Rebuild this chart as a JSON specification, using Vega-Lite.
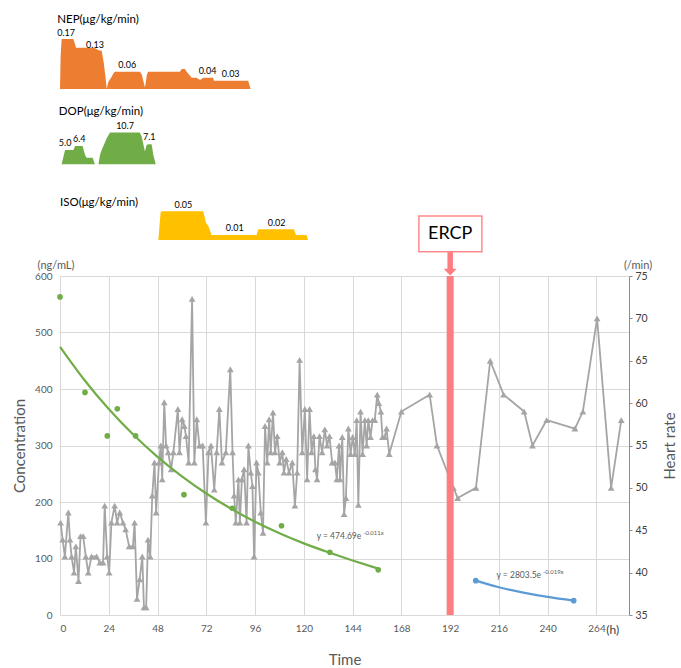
{
  "$schema": "https://vega.github.io/schema/vega-lite/v6.json",
  "padding": {"left": 12, "top": 14, "right": 5, "bottom": 5},
  "config": {
    "font": "Lato",
    "view": {"stroke": null},
    "axis": {"labelColor": "#595959", "labelFontSize": 10, "titleColor": "#595959", "titleFontWeight": "normal", "titleFontSize": 15, "gridColor": "#d9d9d9", "domain": false, "ticks": false},
    "title": {"fontSize": 11.5, "fontWeight": "normal", "color": "#000000", "anchor": "start"}
  },
  "datasets": {
    "nep": [
      {"t": 0, "v": 0}, {"t": 0.3, "v": 0.11}, {"t": 0.8, "v": 0.17}, {"t": 6.6, "v": 0.17}, {"t": 7.9, "v": 0.14}, {"t": 17, "v": 0.14}, {"t": 18.9, "v": 0.132}, {"t": 20.5, "v": 0.13}, {"t": 21.5, "v": 0.09}, {"t": 22.4, "v": 0.04}, {"t": 23, "v": 0}, {"t": 23.8, "v": 0.025}, {"t": 24.9, "v": 0.036}, {"t": 26.5, "v": 0.055}, {"t": 27.1, "v": 0.059}, {"t": 39.3, "v": 0.059}, {"t": 40.2, "v": 0.05}, {"t": 41.8, "v": 0.005}, {"t": 42.8, "v": 0.05}, {"t": 43.4, "v": 0.059}, {"t": 59, "v": 0.059}, {"t": 59.9, "v": 0.068}, {"t": 61.5, "v": 0.068}, {"t": 62.3, "v": 0.059}, {"t": 64.8, "v": 0.0385}, {"t": 67.2, "v": 0.0385}, {"t": 68.9, "v": 0.031}, {"t": 70.5, "v": 0.0385}, {"t": 75.4, "v": 0.0385}, {"t": 75.7, "v": 0.028}, {"t": 92.6, "v": 0.028}, {"t": 93.8, "v": 0}
    ],
    "nepLabels": [
      {"t": 3.0, "v": 0.17, "label": "0.17"}, {"t": 17.2, "v": 0.13, "label": "0.13"}, {"t": 33.1, "v": 0.06, "label": "0.06"}, {"t": 72.6, "v": 0.04, "label": "0.04"}, {"t": 84, "v": 0.03, "label": "0.03"}
    ],
    "dop": [
      {"t": 0.8, "v": 0}, {"t": 2.5, "v": 4.84}, {"t": 6.6, "v": 4.84}, {"t": 7.4, "v": 6.2}, {"t": 11.1, "v": 6.2}, {"t": 12.3, "v": 3.2}, {"t": 13.1, "v": 2.25}, {"t": 16.1, "v": 2.25}, {"t": 16.7, "v": 0.9}, {"t": 17.2, "v": 0}, {"t": 18.9, "v": 0}, {"t": 19.7, "v": 3.2}, {"t": 20.5, "v": 4.84}, {"t": 23, "v": 8.8}, {"t": 24.6, "v": 10.7}, {"t": 39.3, "v": 10.7}, {"t": 40.2, "v": 9.3}, {"t": 41.8, "v": 4.3}, {"t": 42.6, "v": 6.5}, {"t": 43.4, "v": 6.76}, {"t": 45.1, "v": 6.76}, {"t": 45.9, "v": 3.2}, {"t": 47.1, "v": 0}
    ],
    "dopLabels": [
      {"t": 2.5, "v": 5.0, "label": "5.0"}, {"t": 9.5, "v": 6.4, "label": "6.4"}, {"t": 32, "v": 10.7, "label": "10.7"}, {"t": 43.9, "v": 7.1, "label": "7.1"}
    ],
    "iso": [
      {"t": 48.4, "v": 0}, {"t": 49.5, "v": 0.048}, {"t": 50.0, "v": 0.05}, {"t": 70.5, "v": 0.05}, {"t": 71.8, "v": 0.03}, {"t": 73.0, "v": 0.0244}, {"t": 74.6, "v": 0.0087}, {"t": 96.7, "v": 0.0087}, {"t": 97.6, "v": 0.0186}, {"t": 115.1, "v": 0.0186}, {"t": 116.1, "v": 0.0087}, {"t": 121.3, "v": 0.0087}, {"t": 122.1, "v": 0}
    ],
    "isoLabels": [
      {"t": 60.7, "v": 0.05, "label": "0.05"}, {"t": 86, "v": 0.01, "label": "0.01"}, {"t": 106.6, "v": 0.02, "label": "0.02"}
    ],
    "hr": [
      {"t":0.3,"hr":45.9},{"t":1.3,"hr":43.9},{"t":2.4,"hr":41.9},{"t":4.1,"hr":47.1},{"t":4.9,"hr":43.9},{"t":5.7,"hr":41.9},{"t":6.9,"hr":40.0},{"t":7.8,"hr":43.1},{"t":9.1,"hr":39.0},{"t":10.1,"hr":44.3},{"t":11.4,"hr":44.3},{"t":12.7,"hr":41.9},{"t":13.9,"hr":40.0},{"t":15.5,"hr":41.9},{"t":18.0,"hr":41.9},{"t":19.6,"hr":41.2},{"t":21.2,"hr":41.2},{"t":22.0,"hr":47.9},{"t":23.2,"hr":41.9},{"t":24.2,"hr":40.0},{"t":25.3,"hr":45.9},{"t":26.9,"hr":47.9},{"t":28.1,"hr":45.9},{"t":29.4,"hr":47.1},{"t":31.0,"hr":45.9},{"t":32.3,"hr":45.1},{"t":34.0,"hr":43.1},{"t":35.9,"hr":43.1},{"t":36.7,"hr":45.9},{"t":37.9,"hr":36.9},{"t":39.2,"hr":39.2},{"t":40.5,"hr":41.9},{"t":41.3,"hr":35.9},{"t":42.4,"hr":35.9},{"t":43.3,"hr":43.9},{"t":44.4,"hr":41.9},{"t":45.4,"hr":49.1},{"t":46.5,"hr":53.0},{"t":47.3,"hr":47.1},{"t":48.7,"hr":53.0},{"t":49.6,"hr":55.0},{"t":50.3,"hr":51.0},{"t":51.3,"hr":60.1},{"t":52.2,"hr":55.0},{"t":53.2,"hr":54.2},{"t":54.7,"hr":52.2},{"t":55.8,"hr":54.2},{"t":58.0,"hr":59.3},{"t":58.8,"hr":54.2},{"t":60.1,"hr":58.1},{"t":61.2,"hr":57.3},{"t":62.0,"hr":56.1},{"t":63.3,"hr":53.0},{"t":65.0,"hr":72.3},{"t":66.1,"hr":53.0},{"t":67.3,"hr":58.1},{"t":68.6,"hr":55.0},{"t":70.2,"hr":55.0},{"t":71.8,"hr":45.9},{"t":73.1,"hr":54.2},{"t":74.3,"hr":55.0},{"t":75.9,"hr":49.8},{"t":77.1,"hr":54.2},{"t":78.4,"hr":59.3},{"t":79.7,"hr":53.0},{"t":81.6,"hr":54.2},{"t":83.8,"hr":64.0},{"t":84.9,"hr":54.2},{"t":85.7,"hr":49.1},{"t":86.5,"hr":45.9},{"t":87.8,"hr":51.0},{"t":88.5,"hr":45.9},{"t":89.5,"hr":51.0},{"t":90.6,"hr":52.2},{"t":91.8,"hr":45.9},{"t":92.7,"hr":55.0},{"t":93.9,"hr":51.8},{"t":94.7,"hr":50.2},{"t":95.5,"hr":41.9},{"t":96.7,"hr":53.0},{"t":97.6,"hr":51.8},{"t":98.8,"hr":47.1},{"t":99.9,"hr":44.7},{"t":100.9,"hr":57.3},{"t":102.0,"hr":53.0},{"t":102.9,"hr":58.1},{"t":103.7,"hr":54.2},{"t":104.8,"hr":58.9},{"t":105.8,"hr":54.2},{"t":106.9,"hr":56.1},{"t":108.1,"hr":53.0},{"t":109.4,"hr":54.2},{"t":110.2,"hr":51.8},{"t":111.3,"hr":53.4},{"t":112.7,"hr":51.8},{"t":114.3,"hr":53.0},{"t":115.6,"hr":47.9},{"t":116.7,"hr":51.8},{"t":117.9,"hr":65.1},{"t":119.2,"hr":54.2},{"t":120.5,"hr":59.3},{"t":121.6,"hr":51.0},{"t":122.8,"hr":59.3},{"t":123.8,"hr":54.2},{"t":124.9,"hr":56.1},{"t":125.7,"hr":52.2},{"t":126.5,"hr":51.0},{"t":127.7,"hr":56.1},{"t":129.0,"hr":54.2},{"t":130.3,"hr":56.9},{"t":131.4,"hr":55.0},{"t":132.6,"hr":56.1},{"t":133.9,"hr":53.0},{"t":135.3,"hr":53},{"t":136.2,"hr":51},{"t":137.3,"hr":55},{"t":137.8,"hr":51},{"t":138.9,"hr":56},{"t":139.8,"hr":46.9},{"t":140.7,"hr":48.8},{"t":141.9,"hr":57},{"t":143.0,"hr":54},{"t":144.0,"hr":56},{"t":145.1,"hr":54},{"t":146.0,"hr":58},{"t":146.8,"hr":48},{"t":147.9,"hr":59},{"t":148.9,"hr":54},{"t":150.0,"hr":58},{"t":150.9,"hr":55},{"t":151.7,"hr":58},{"t":152.8,"hr":56},{"t":153.8,"hr":58},{"t":154.9,"hr":58},{"t":156.1,"hr":61},{"t":156.9,"hr":60},{"t":157.9,"hr":59},{"t":158.7,"hr":56},{"t":159.8,"hr":56},{"t":160.7,"hr":57},{"t":162.0,"hr":54},{"t":168.0,"hr":59},{"t":181.9,"hr":61},{"t":185.5,"hr":55},{"t":193.6,"hr":50},{"t":195.7,"hr":48.8},{"t":204.7,"hr":50},{"t":211.7,"hr":65},{"t":218.3,"hr":61},{"t":228.4,"hr":59},{"t":232.5,"hr":55},{"t":239.5,"hr":58},{"t":253.4,"hr":57},{"t":257.3,"hr":59},{"t":264.3,"hr":70},{"t":271.2,"hr":50},{"t":276.2,"hr":58}
    ],
    "conc": [
      {"t": 0, "c": 563, "g": "pre"}, {"t": 12.3, "c": 394, "g": "pre"}, {"t": 23.3, "c": 317, "g": "pre"}, {"t": 28.2, "c": 365, "g": "pre"}, {"t": 37.2, "c": 317, "g": "pre"}, {"t": 61, "c": 213, "g": "pre"}, {"t": 84.8, "c": 189, "g": "pre"}, {"t": 109, "c": 158, "g": "pre"}, {"t": 132.8, "c": 111, "g": "pre"}, {"t": 156.6, "c": 80, "g": "pre"},
      {"t": 204.6, "c": 60.8, "g": "post"}, {"t": 252.8, "c": 25.4, "g": "post"}
    ],
    "fit": [
      {"t": 0, "c": 474.7, "g": "pre"}, {"t": 12, "c": 416.0, "g": "pre"}, {"t": 24, "c": 364.6, "g": "pre"}, {"t": 36, "c": 319.5, "g": "pre"}, {"t": 48, "c": 280.0, "g": "pre"}, {"t": 60, "c": 245.4, "g": "pre"}, {"t": 72, "c": 215.0, "g": "pre"}, {"t": 84, "c": 188.4, "g": "pre"}, {"t": 96, "c": 165.1, "g": "pre"}, {"t": 108, "c": 144.7, "g": "pre"}, {"t": 120, "c": 126.8, "g": "pre"}, {"t": 132, "c": 111.1, "g": "pre"}, {"t": 144, "c": 96.5, "g": "pre"}, {"t": 156.6, "c": 82, "g": "pre"},
      {"t": 204.6, "c": 60.8, "g": "post"}, {"t": 216, "c": 49.1, "g": "post"}, {"t": 228, "c": 39.7, "g": "post"}, {"t": 240, "c": 32.0, "g": "post"}, {"t": 252.8, "c": 25.4, "g": "post"}
    ],
    "eq": [
      {"t": 126.3, "c": 140, "text": "y = 474.69e"}, {"t": 214.8, "c": 70.3, "text": "y = 2803.5e"}
    ],
    "eqSup": [
      {"t": 149.2, "c": 140, "text": "-0.011x"}, {"t": 237.7, "c": 70.3, "text": "-0.019x"}
    ]
  },
  "spacing": 36,
  "bounds": "flush",
  "vconcat": [
    {
      "width": 569, "height": 50,
      "title": {"text": "NEP(μg/kg/min)", "offset": 3.5},
      "layer": [
        {"data": {"name": "nep"}, "mark": {"type": "area", "color": "#ed7d31"},
         "encoding": {"x": {"field": "t", "type": "quantitative", "scale": {"domain": [0, 280], "nice": false}, "axis": null},
                      "y": {"field": "v", "type": "quantitative", "scale": {"domain": [0, 0.17], "nice": false}, "axis": null}}},
        {"data": {"name": "nepLabels"}, "mark": {"type": "text", "fontSize": 9, "baseline": "bottom", "dy": -1, "color": "#000000"},
         "encoding": {"x": {"field": "t", "type": "quantitative", "scale": {"domain": [0, 280], "nice": false}, "axis": null},
                      "y": {"field": "v", "type": "quantitative", "scale": {"domain": [0, 0.17], "nice": false}, "axis": null},
                      "text": {"field": "label"}}}
      ]
    },
    {
      "width": 569, "height": 39.3,
      "title": {"text": "DOP(μg/kg/min)", "offset": 4.5},
      "layer": [
        {"data": {"name": "dop"}, "mark": {"type": "area", "color": "#70ad47"},
         "encoding": {"x": {"field": "t", "type": "quantitative", "scale": {"domain": [0, 280], "nice": false}, "axis": null},
                      "y": {"field": "v", "type": "quantitative", "scale": {"domain": [0, 13.26], "nice": false}, "axis": null}}},
        {"data": {"name": "dopLabels"}, "mark": {"type": "text", "fontSize": 9, "baseline": "bottom", "dy": -1.5, "color": "#000000"},
         "encoding": {"x": {"field": "t", "type": "quantitative", "scale": {"domain": [0, 280], "nice": false}, "axis": null},
                      "y": {"field": "v", "type": "quantitative", "scale": {"domain": [0, 13.26], "nice": false}, "axis": null},
                      "text": {"field": "label"}}}
      ]
    },
    {
      "width": 569, "height": 39,
      "title": {"text": "ISO(μg/kg/min)", "offset": -7.5},
      "layer": [
        {"data": {"name": "iso"}, "mark": {"type": "area", "color": "#ffc000"},
         "encoding": {"x": {"field": "t", "type": "quantitative", "scale": {"domain": [0, 280], "nice": false}, "axis": null},
                      "y": {"field": "v", "type": "quantitative", "scale": {"domain": [0, 0.068], "nice": false}, "axis": null}}},
        {"data": {"name": "isoLabels"}, "mark": {"type": "text", "fontSize": 9, "baseline": "bottom", "dy": -1, "color": "#000000"},
         "encoding": {"x": {"field": "t", "type": "quantitative", "scale": {"domain": [0, 280], "nice": false}, "axis": null},
                      "y": {"field": "v", "type": "quantitative", "scale": {"domain": [0, 0.068], "nice": false}, "axis": null},
                      "text": {"field": "label"}}}
      ]
    },
    {
      "width": 569, "height": 339,
      "layer": [
        {"data": {"name": "hr"},
         "mark": {"type": "line", "color": "#a5a5a5", "strokeWidth": 1.8, "point": {"shape": "triangle-up", "size": 46, "filled": true, "color": "#a5a5a5"}},
         "encoding": {
           "x": {"field": "t", "type": "quantitative", "scale": {"domain": [0, 280], "nice": false},
                 "axis": {"values": [0, 24, 48, 72, 96, 120, 144, 168, 192, 216, 240, 264], "title": "Time", "grid": true, "labelPadding": 8, "titlePadding": 19}},
           "y": {"field": "hr", "type": "quantitative", "scale": {"domain": [35, 75], "nice": false},
                 "axis": {"orient": "right", "values": [35, 40, 45, 50, 55, 60, 65, 70, 75], "title": "Heart rate", "grid": false, "domain": true, "domainColor": "#8c8c8c", "ticks": true, "tickColor": "#8c8c8c", "tickSize": 3, "labelPadding": 3, "labelColor": "#404040", "labelFontSize": 10.5, "titlePadding": 30, "titleAngle": 270}}
         }},
        {"layer": [
          {"data": {"name": "fit"},
           "mark": {"type": "line", "strokeWidth": 2.2, "interpolate": "monotone"},
           "encoding": {
             "x": {"field": "t", "type": "quantitative", "scale": {"domain": [0, 280], "nice": false},
                   "axis": {"values": [0, 24, 48, 72, 96, 120, 144, 168, 192, 216, 240, 264], "title": "Time", "grid": true, "labelPadding": 8, "titlePadding": 19}},
             "y": {"field": "c", "type": "quantitative", "scale": {"domain": [0, 600], "nice": false},
                   "axis": {"orient": "left", "values": [0, 100, 200, 300, 400, 500, 600], "title": "Concentration", "grid": true, "labelPadding": 8, "titlePadding": 7}},
             "color": {"field": "g", "type": "nominal", "scale": {"domain": ["pre", "post"], "range": ["#70ad47", "#5b9bd5"]}, "legend": null}
           }},
          {"data": {"name": "conc"},
           "mark": {"type": "circle", "size": 32, "opacity": 1},
           "encoding": {
             "x": {"field": "t", "type": "quantitative"},
             "y": {"field": "c", "type": "quantitative"},
             "color": {"field": "g", "type": "nominal", "scale": {"domain": ["pre", "post"], "range": ["#70ad47", "#5b9bd5"]}, "legend": null}
           }},
          {"data": {"values": [{}]}, "mark": {"type": "rule", "color": "#ff7c80", "strokeWidth": 7},
           "encoding": {"x": {"datum": 192}, "y": {"datum": 0}, "y2": {"datum": 600}}},
          {"data": {"values": [{}]}, "mark": {"type": "rule", "color": "#ff7c80", "strokeWidth": 5.5},
           "encoding": {"x": {"datum": 192}, "y": {"datum": 643}, "y2": {"datum": 609}}},
          {"data": {"values": [{}]}, "mark": {"type": "point", "shape": "M-1,-0.5L1,-0.5L0,0.55Z", "size": 169, "filled": true, "opacity": 1, "color": "#ff7c80"},
           "encoding": {"x": {"datum": 192}, "y": {"datum": 607}}},
          {"data": {"values": [{}]}, "mark": {"type": "rect", "fill": "#ffffff", "stroke": "#ff8a8c", "strokeWidth": 1.5},
           "encoding": {"x": {"datum": 176.6}, "x2": {"datum": 207.6}, "y": {"datum": 643}, "y2": {"datum": 706}}},
          {"data": {"values": [{}]}, "mark": {"type": "text", "text": "ERCP", "fontSize": 18, "color": "#000000", "baseline": "middle", "align": "center"},
           "encoding": {"x": {"datum": 192}, "y": {"datum": 674}}},
          {"data": {"name": "eq"}, "mark": {"type": "text", "fontSize": 8.5, "color": "#595959", "align": "left", "baseline": "middle"},
           "encoding": {"x": {"field": "t", "type": "quantitative"}, "y": {"field": "c", "type": "quantitative"}, "text": {"field": "text"}}},
          {"data": {"name": "eqSup"}, "mark": {"type": "text", "fontSize": 6, "color": "#595959", "align": "left", "baseline": "middle", "dy": -3},
           "encoding": {"x": {"field": "t", "type": "quantitative"}, "y": {"field": "c", "type": "quantitative"}, "text": {"field": "text"}}},
          {"data": {"values": [{}]}, "mark": {"type": "text", "text": "(ng/mL)", "fontSize": 11, "color": "#595959", "dx": -4, "dy": -10},
           "encoding": {"x": {"datum": 0}, "y": {"datum": 600}}},
          {"data": {"values": [{}]}, "mark": {"type": "text", "text": "(/min)", "fontSize": 11, "color": "#595959", "dx": 9, "dy": -10},
           "encoding": {"x": {"datum": 280}, "y": {"datum": 600}}},
          {"data": {"values": [{}]}, "mark": {"type": "text", "text": "(h)", "fontSize": 12, "color": "#404040", "dy": 15},
           "encoding": {"x": {"datum": 272}, "y": {"datum": 0}}}
        ]}
      ],
      "resolve": {"scale": {"y": "independent"}}
    }
  ]
}
